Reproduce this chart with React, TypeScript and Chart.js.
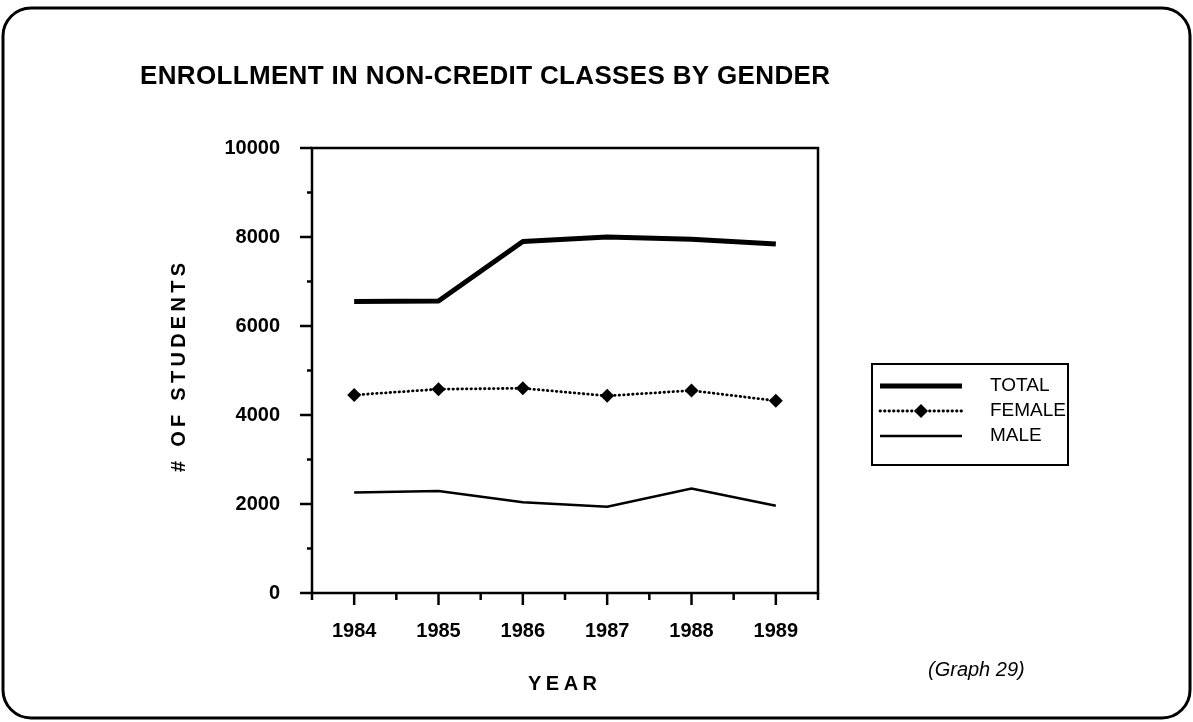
import React, { useEffect, useRef } from "react";
import { Chart, registerables } from "chart.js";

Chart.register(...registerables);

const years = ["1984", "1985", "1986", "1987", "1988", "1989"];
const totalValues = [6550, 6560, 7900, 8000, 7950, 7840];
const femaleValues = [4450, 4580, 4600, 4430, 4550, 4320];
const maleValues = [2260, 2290, 2040, 1940, 2350, 1960];
const yTickValues = [0, 2000, 4000, 6000, 8000, 10000];
const seriesNames = ["TOTAL", "FEMALE", "MALE"];
const titleText = "ENROLLMENT IN NON-CREDIT CLASSES BY GENDER";
const yTitleText = "# OF STUDENTS";
const xTitleText = "YEAR";
const noteText = "(Graph 29)";

const W = 1193;
const H = 722;
const FONT = "'Liberation Sans', Arial, Helvetica, sans-serif";

function drawSpaced(ctx: CanvasRenderingContext2D, text: string, x: number, y: number, width: number) {
  const chars = Array.from(text);
  const widths = chars.map((c) => ctx.measureText(c).width);
  const sum = widths.reduce((a, b) => a + b, 0);
  const ls = chars.length > 1 ? (width - sum) / (chars.length - 1) : 0;
  let cx = x;
  chars.forEach((c, i) => {
    ctx.fillText(c, cx, y);
    cx += widths[i] + ls;
  });
}

const decorPlugin = {
  id: "decor",
  beforeDraw(chart: any) {
    const ctx: CanvasRenderingContext2D = chart.ctx;
    ctx.save();
    ctx.fillStyle = "#fff";
    ctx.fillRect(0, 0, W, H);
    // outer rounded frame
    ctx.strokeStyle = "#000";
    ctx.lineWidth = 3;
    ctx.beginPath();
    (ctx as any).roundRect(3, 8, 1187, 710, 28);
    ctx.stroke();

    ctx.fillStyle = "#000";
    ctx.textBaseline = "middle";
    ctx.textAlign = "left";
    // title
    ctx.font = `bold 26px ${FONT}`;
    drawSpaced(ctx, titleText, 140, 77, 690);
    // x title
    ctx.font = `bold 20px ${FONT}`;
    drawSpaced(ctx, xTitleText, 528, 684, 69);
    // y title
    ctx.save();
    ctx.translate(179, 472);
    ctx.rotate(-Math.PI / 2);
    ctx.font = `bold 20px ${FONT}`;
    drawSpaced(ctx, yTitleText, 0, 0, 209);
    ctx.restore();
    // note
    ctx.font = `italic 20px ${FONT}`;
    ctx.fillText(noteText, 928, 670);

    // legend
    const bx = 872, by = 364, bw = 196, bh = 101;
    ctx.lineWidth = 2;
    ctx.strokeRect(bx, by, bw, bh);
    const rows = [386, 411, 436];
    chart.data.datasets.forEach((ds: any, i: number) => {
      const y = rows[i];
      ctx.save();
      ctx.strokeStyle = "#000";
      ctx.lineWidth = ds.borderWidth;
      ctx.lineCap = ds.borderCapStyle || "butt";
      ctx.setLineDash(ds.borderDash || []);
      ctx.beginPath();
      ctx.moveTo(880, y);
      ctx.lineTo(962, y);
      ctx.stroke();
      ctx.restore();
      if (ds.pointRadius > 0) {
        const r = ds.pointRadius;
        ctx.beginPath();
        ctx.moveTo(921, y - r);
        ctx.lineTo(921 + r, y);
        ctx.lineTo(921, y + r);
        ctx.lineTo(921 - r, y);
        ctx.closePath();
        ctx.fill();
      }
      ctx.font = `19px ${FONT}`;
      ctx.fillText(ds.label, 990, y);
    });
    ctx.restore();
  },
  afterDraw(chart: any) {
    const ctx: CanvasRenderingContext2D = chart.ctx;
    const { left, right, top, bottom } = chart.chartArea;
    const xs = chart.scales.x;
    const ys = chart.scales.y;
    ctx.save();
    ctx.strokeStyle = "#000";
    ctx.lineWidth = 2.5;
    ctx.strokeRect(left, top, right - left, bottom - top);
    ctx.lineWidth = 2.5;
    // y ticks
    const yPix = ys.ticks.map((t: any) => ys.getPixelForValue(t.value));
    yPix.forEach((p: number, i: number) => {
      ctx.beginPath();
      ctx.moveTo(left - 12, p);
      ctx.lineTo(left, p);
      ctx.stroke();
      if (i < yPix.length - 1) {
        const m = (p + yPix[i + 1]) / 2;
        ctx.beginPath();
        ctx.moveTo(left - 5, m);
        ctx.lineTo(left, m);
        ctx.stroke();
      }
    });
    // x ticks
    const xPix = years.map((_, i) => xs.getPixelForValue(i));
    xPix.forEach((p: number) => {
      ctx.beginPath();
      ctx.moveTo(p, bottom);
      ctx.lineTo(p, bottom + 12);
      ctx.stroke();
    });
    const bounds = [left];
    for (let i = 0; i < xPix.length - 1; i++) bounds.push((xPix[i] + xPix[i + 1]) / 2);
    bounds.push(right);
    bounds.forEach((p) => {
      ctx.beginPath();
      ctx.moveTo(p, bottom);
      ctx.lineTo(p, bottom + 7);
      ctx.stroke();
    });
    ctx.restore();
  },
};

export default function App() {
  const ref = useRef<HTMLCanvasElement | null>(null);
  useEffect(() => {
    if (!ref.current) return;
    const chart = new Chart(ref.current, {
      type: "line",
      data: {
        labels: years,
        datasets: [
          {
            label: seriesNames[0],
            data: totalValues,
            borderColor: "#000",
            backgroundColor: "#000",
            borderWidth: 5,
            pointRadius: 0,
            borderJoinStyle: "round",
            tension: 0,
          },
          {
            label: seriesNames[1],
            data: femaleValues,
            borderColor: "#000",
            backgroundColor: "#000",
            borderWidth: 2.8,
            borderDash: [0.5, 4],
            borderCapStyle: "round",
            pointStyle: "rectRot",
            pointRadius: 7,
            pointBackgroundColor: "#000",
            pointBorderWidth: 0,
            tension: 0,
          },
          {
            label: seriesNames[2],
            data: maleValues,
            borderColor: "#000",
            backgroundColor: "#000",
            borderWidth: 2.5,
            pointRadius: 0,
            tension: 0,
          },
        ],
      } as any,
      options: {
        animation: false,
        responsive: false,
        devicePixelRatio: 1,
        layout: { padding: { top: 148, right: W - 818, left: 0, bottom: 0 } },
        plugins: {
          legend: { display: false },
          title: { display: false },
          tooltip: { enabled: false },
        },
        scales: {
          x: {
            type: "category",
            offset: true,
            grid: { display: false },
            border: { display: false },
            ticks: {
              color: "#000",
              font: { family: FONT, size: 20, weight: "bold" },
              padding: 18,
              maxRotation: 0,
              autoSkip: false,
            },
            afterFit: (s: any) => {
              s.height = H - 593;
            },
          },
          y: {
            min: 0,
            max: 10000,
            grid: { display: false },
            border: { display: false },
            ticks: {
              color: "#000",
              font: { family: FONT, size: 20, weight: "bold" },
              padding: 24,
              autoSkip: false,
              callback: (v: any) => String(v),
            },
            afterBuildTicks: (s: any) => {
              s.ticks = yTickValues.map((v) => ({ value: v }));
            },
            afterFit: (s: any) => {
              s.width = 312;
            },
          },
        },
      } as any,
      plugins: [decorPlugin],
    });
    return () => chart.destroy();
  }, []);
  return (
    <div style={{ position: "absolute", left: 0, top: 0, width: W, height: H, background: "#fff" }}>
      <canvas ref={ref} width={W} height={H} style={{ display: "block", width: W, height: H }} />
    </div>
  );
}
